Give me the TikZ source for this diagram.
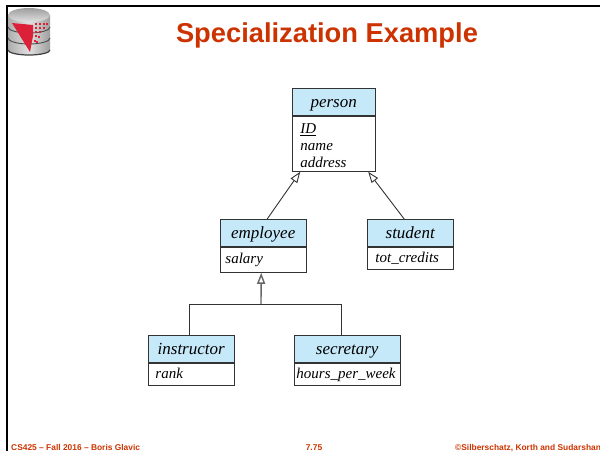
\documentclass[tikz,border=0pt]{standalone}
\usepackage{fontspec}
\setmainfont{Liberation Serif}
\newfontfamily\slidefont{Liberation Sans}
\usetikzlibrary{positioning,calc,arrows.meta}
\definecolor{headblue}{HTML}{C6E9FA}
\definecolor{linegray}{HTML}{333333}
\definecolor{slidered}{HTML}{CC3300}
\definecolor{logored}{HTML}{DC2038}

\begin{document}
\begin{tikzpicture}[x=1pt, y=-1pt,
    head/.style={rectangle, draw=linegray, fill=headblue, line width=0.9pt, anchor=north west, inner sep=0pt, minimum height=27pt, text height=15pt, text depth=3pt, font=\fontsize{17}{20}\selectfont\itshape},
    attrs/.style={rectangle, draw=linegray, fill=white, line width=0.9pt, anchor=north, inner sep=0pt, align=left, font=\fontsize{15}{17}\selectfont\itshape},
    attrline/.style={attrs, text height=10pt, text depth=2.5pt},
    isa/.style={-{Triangle[open, length=11pt, width=8pt, fill=white]}, draw=linegray, line width=0.9pt},
    link/.style={draw=linegray, line width=0.9pt},
    footer/.style={font=\slidefont\bfseries\fontsize{8.4}{10}\selectfont, text=slidered, inner sep=0pt}]
    \useasboundingbox (0, 0) rectangle (600, 451);

    % slide frame
    \draw [line width=1.9pt] (6.7, 451) -- (6.7, 6.2) -- (600, 6.2);

    % logo
    \shade [left color=black!32, right color=black!38, middle color=black!12]
        (8, 15) -- (8, 50) arc [start angle=180, end angle=360, x radius=21pt, y radius=5pt] -- (50, 15) -- cycle;
    \shade [top color=black!38, bottom color=black!12]
        (29, 15) ellipse [x radius=21pt, y radius=7pt];
    \draw [black!70, line width=0.9pt] (8, 27) arc [start angle=180, end angle=360, x radius=21pt, y radius=6pt];
    \draw [black!70, line width=0.9pt] (8, 38) arc [start angle=180, end angle=360, x radius=21pt, y radius=6pt];
    \draw [black!75, line width=1.2pt] (8, 50) arc [start angle=180, end angle=360, x radius=21pt, y radius=5pt];
    \fill [logored] (12, 23) -- (33, 25) -- (33, 36) -- (30, 52) -- cycle;
    \foreach \x/\y in {35/23, 39/23, 43/23, 46/23, 35/27, 39/27, 43/27, 35/31, 39/31, 35/35, 38/36, 34/40, 36/41}
        \fill [logored] (\x, \y) rectangle +(2, 2);

    % title
    \node (title) [font=\slidefont\bfseries\fontsize{27.3}{32}\selectfont, text=slidered, inner sep=0pt] at (327, 35) {Specialization Example};

    % entities
    \node (person) [head, minimum width=82.5pt] at (292, 88) {person};
    \node (personA) [attrs, below=0pt of person.south, anchor=north, minimum height=55pt, text width=82.5pt] {\hspace*{8pt}\rule{0pt}{14pt}\underline{ID}\\\hspace*{8pt}name\\\hspace*{8pt}address};

    \node (employee) [head, minimum width=85.5pt] at (220, 219) {employee};
    \node (employeeA) [attrline, below=0pt of employee.south, anchor=north, minimum height=25pt, text width=85.5pt] {\hspace*{5pt}salary};

    \node (student) [head, minimum width=85.5pt] at (367, 219) {student};
    \node (studentA) [attrline, below=0pt of student.south, anchor=north, minimum height=22pt, text width=85.5pt] {\hspace*{8pt}tot\_credits};

    \node (instructor) [head, minimum width=85.5pt] at (148, 335) {instructor};
    \node (instructorA) [attrline, below=0pt of instructor.south, anchor=north, minimum height=22pt, text width=85.5pt] {\hspace*{7pt}rank};

    \node (secretary) [head, minimum width=105.5pt] at (294, 335) {secretary};
    \node (secretaryA) [attrline, below=0pt of secretary.south, anchor=north, minimum height=22pt, text width=105.5pt] {\hspace*{2pt}hours\_per\_week};

    % connectors
    \draw [isa] ([xshift=4pt]employee.north) -- ([xshift=-33.5pt]personA.south);
    \draw [isa] ([xshift=-6pt]student.north) -- ([xshift=34.5pt]personA.south);

    \coordinate (split) at (261, 304);
    \draw [isa, line width=1.4pt, black!60] (split) -- ([xshift=-2pt]employeeA.south);
    \draw [link] ([xshift=-2pt]instructor.north) |- (split);
    \draw [link] ([xshift=-6pt]secretary.north) |- (split);

    % footer
    \node (course) [footer, anchor=base west] at (11, 450.2) {CS425 – Fall 2016 – Boris Glavic};
    \node (slideno) [footer, anchor=base] at (314, 450.2) {7.75};
    \node (credit) [footer, anchor=base west] at (455, 450.2) {©Silberschatz, Korth and Sudarshan};
\end{tikzpicture}
\end{document}
